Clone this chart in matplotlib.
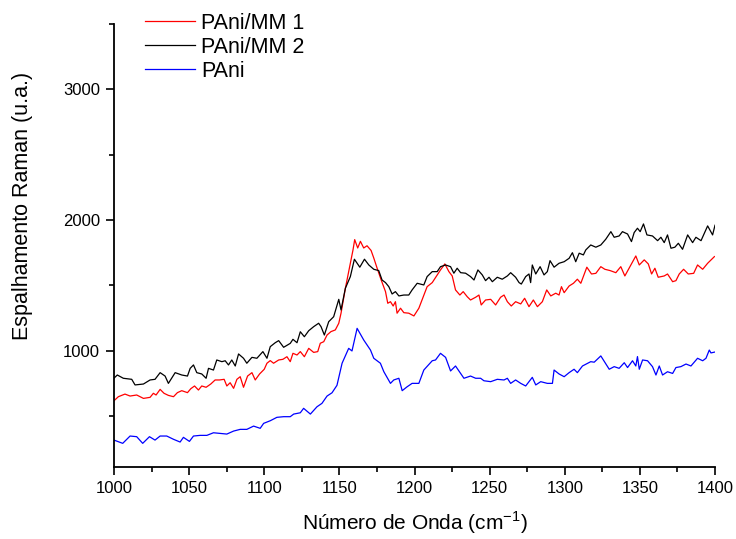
import matplotlib
matplotlib.use("Agg")
import matplotlib.pyplot as plt
from matplotlib.ticker import MultipleLocator

plt.rcParams['font.family'] = ['Liberation Sans', 'DejaVu Sans']

# PAni/MM 1 (red)
wn_mm1 = [1000, 1002.9, 1007.3, 1010.7, 1015.1, 1019.6, 1024, 1026.2, 1028, 1030.7,
          1033.3, 1036.2, 1039.6, 1042.2, 1045.1, 1048.9, 1051.1, 1053.6, 1056.2, 1058.4,
          1061.3, 1064.4, 1067.3, 1070.2, 1073.3, 1075.1, 1077.3, 1079.6, 1081.8, 1084,
          1086.2, 1088.9, 1091.8, 1094, 1096.9, 1100, 1101.8, 1104, 1106.2, 1109.6,
          1112.4, 1115.1, 1117.3, 1119.1, 1121.8, 1124, 1126.7, 1129.6, 1132.9, 1135.6,
          1137.3, 1139.6, 1141.8, 1144.4, 1147.3, 1149.6, 1151.1, 1154, 1156.9, 1159.1,
          1160.2, 1162.2, 1164, 1166.2, 1168.4, 1171.1, 1172.9, 1175.1, 1177.8, 1180.7,
          1182.2, 1184, 1185.8, 1187.3, 1188.4,
          1190.7, 1192.9, 1196.2, 1199.6, 1202.9, 1205.8, 1208.4, 1211.8, 1215.1, 1217.3,
          1220.2, 1222.9, 1225.1, 1227.3, 1230.2, 1232.4, 1235.1, 1237.3, 1240.7, 1242.9,
          1244.4, 1247.3, 1250.7, 1254, 1257.3, 1259.6, 1261.8, 1264.4, 1267.3, 1270.7,
          1273.3, 1276.2, 1279.1, 1281.8, 1285.1, 1288, 1290.7, 1294, 1296.2, 1297.8,
          1299.6, 1302.9, 1305.8, 1308.4, 1310.7, 1314.7, 1317.8, 1320.7, 1324, 1326.7,
          1330.2, 1334, 1337.3, 1340, 1344, 1347.3, 1349.6, 1352.9, 1355.6, 1357.8,
          1360, 1362.2, 1366.2, 1368.4, 1371.8, 1374, 1376.2, 1379.1, 1382.2, 1385.8,
          1388.4, 1391.8, 1395.1, 1399.6]
int_mm1 = [617, 648, 668, 653, 661, 635, 643, 674, 661, 704,
           674, 658, 648, 679, 694, 679, 709, 730, 699, 730,
           720, 745, 776, 776, 781, 730, 755, 712, 781, 801,
           720, 806, 832, 776, 822, 858, 904, 924, 904, 929,
           934, 954, 916, 980, 967, 993, 954, 1018, 987, 993,
           1057, 1069, 1120, 1146, 1159, 1210, 1287, 1478, 1645, 1773,
           1850, 1786, 1837, 1786, 1803, 1767, 1709, 1632, 1542, 1452,
           1363, 1375, 1342, 1375, 1287,
           1325, 1291, 1287, 1266, 1325, 1413, 1490, 1521, 1580, 1618,
           1664, 1605, 1572, 1465, 1426, 1452, 1413, 1388, 1409, 1426,
           1350, 1388, 1393, 1350, 1409, 1426, 1375, 1342, 1375, 1358,
           1401, 1337, 1388, 1337, 1375, 1465, 1419, 1440, 1426, 1490,
           1444, 1495, 1516, 1547, 1516, 1639, 1587, 1592, 1643, 1623,
           1613, 1597, 1643, 1572, 1656, 1725, 1656, 1695, 1664, 1587,
           1631, 1562, 1572, 1587, 1528, 1536, 1587, 1623, 1587, 1592,
           1656, 1623, 1669, 1720]

# PAni/MM 2 (black)
wn_mm2 = [1000, 1002.2, 1006.2, 1011.8, 1014, 1019.6, 1024, 1027.3, 1030.7, 1034,
          1036.2, 1040.7, 1045.1, 1048.9, 1050.7, 1052.9, 1055.1, 1058.4, 1061.3, 1062.9,
          1066.2, 1068.4, 1071.8, 1074, 1076.2, 1078.4, 1080.7, 1082.9, 1086.2, 1088.4,
          1091.8, 1095.1, 1099.1, 1101.8, 1104, 1107.3, 1109.6, 1112.9, 1117.3, 1119.1,
          1121.8, 1124, 1126.7, 1129.6, 1132.9, 1136.2, 1137.8, 1140, 1142.9, 1146.2,
          1149.6, 1151.1, 1154, 1157.3, 1160, 1163.6, 1166.7, 1169.6, 1172.9, 1176.2,
          1178.4, 1180.7, 1182.9, 1185.1, 1187.3, 1189.6, 1192.9, 1196.2, 1198.4,
          1201.8, 1206.2, 1208.4, 1211.8, 1215.1, 1217.3, 1220.7, 1224, 1226.2, 1228.4,
          1230.7, 1234, 1237.3, 1239.6, 1242.2, 1245.1, 1247.3, 1249.6, 1251.8, 1255.1,
          1258.4, 1261.8, 1264, 1267.3, 1269.6, 1271.1, 1274, 1276.2, 1277.3, 1278.4,
          1280.7, 1283.6, 1286.2, 1288.4, 1290.2, 1292.9, 1296.2, 1299.6, 1302.9, 1305.1,
          1307.3, 1309.6, 1312.4, 1314, 1317.3, 1320.7, 1324, 1327.3, 1330.7, 1332.9,
          1336.2, 1338.4, 1341.8, 1344.4, 1346.2, 1348.4, 1350.2, 1352.4, 1354.7, 1358.4,
          1361.8, 1364, 1366.2, 1368.4, 1370.7, 1373.3, 1375.6, 1378.4, 1381.8, 1385.1,
          1387.3, 1390.7, 1395.1, 1398.4, 1400]
int_mm2 = [790, 814, 789, 781, 738, 745, 776, 781, 832, 806,
           750, 832, 814, 806, 865, 891, 832, 822, 789, 865,
           852, 929, 916, 923, 891, 929, 883, 975, 942, 904,
           949, 942, 993, 942, 1031, 1061, 1077, 1026, 1056, 1087,
           1061, 1145, 1107, 1153, 1184, 1210, 1184, 1120, 1222, 1260,
           1393, 1312, 1478, 1567, 1700, 1639, 1700, 1656, 1623, 1613,
           1541, 1521, 1490, 1434, 1452, 1419, 1426, 1426, 1465,
           1516, 1503, 1567, 1605, 1605, 1643, 1656, 1643, 1593, 1631,
           1597, 1593, 1567, 1541, 1618, 1580, 1536, 1562, 1528, 1562,
           1547, 1572, 1597, 1562, 1521, 1510, 1567, 1587, 1521, 1656,
           1587, 1643, 1580, 1605, 1689, 1639, 1669, 1681, 1707, 1750,
           1681, 1746, 1733, 1771, 1809, 1792, 1809, 1853, 1911, 1868,
           1878, 1911, 1893, 1835, 1904, 1937, 1911, 1970, 1886, 1878,
           1842, 1868, 1827, 1886, 1784, 1792, 1822, 1776, 1886, 1827,
           1868, 1842, 1955, 1886, 1960]

# PAni (blue)
wn_pani = [1000, 1005.8, 1010.7, 1015.1, 1019.1, 1023.6, 1027.3, 1030.7, 1035.1, 1039.6,
           1044, 1046.2, 1050.2, 1052.9, 1057.3, 1061.8, 1066.2, 1070.7, 1075.1, 1079.6,
           1084, 1088.4, 1092.9, 1097.3, 1099.6, 1104, 1108.4, 1112.9, 1117.3, 1119.6,
           1124, 1126.2, 1130.7, 1135.1, 1138.4, 1141.8, 1145.1, 1148.4, 1151.8, 1156.2,
           1158.4, 1161.8, 1166.2, 1170.7, 1172.9, 1177.3, 1179.6, 1184, 1186.2, 1189.6,
           1191.8, 1195.1, 1198.4,
           1202.9, 1206.2, 1211.8, 1214, 1217.3, 1220.7, 1224, 1227.3, 1232.9, 1237.3,
           1240.7, 1244, 1246.2, 1250.7, 1255.1, 1259.6, 1261.8, 1264, 1267.3, 1270.7,
           1274, 1278.4, 1280.7, 1284, 1288.4, 1291.8, 1292.9, 1296.2, 1299.6, 1302.9,
           1306.2, 1308.4, 1311.8, 1317.3, 1319.6, 1324, 1329.6, 1332.9, 1336.2, 1339.6,
           1341.8, 1345.1, 1347.3, 1348.4, 1349.6, 1351.8, 1355.1, 1358.4, 1360.7, 1362.9,
           1365.1, 1368.4, 1371.8, 1374, 1377.3, 1380.7, 1384, 1388.4, 1391.8, 1394,
           1396.2, 1397.3, 1400]
int_pani = [316, 291, 347, 342, 291, 342, 316, 347, 347, 322,
            301, 337, 306, 347, 352, 352, 372, 367, 362, 385,
            398, 398, 423, 406, 444, 464, 490, 495, 495, 515,
            525, 559, 515, 571, 597, 653, 678, 735, 904, 1018,
            998, 1171, 1082, 1005, 942, 904, 839, 750, 776, 789,
            694, 724, 750,
            750, 852, 923, 929, 980, 949, 845, 883, 789, 806,
            789, 789, 770, 763, 781, 776, 789, 750, 776, 750,
            730, 796, 738, 763, 750, 750, 852, 822, 801, 832,
            858, 832, 883, 916, 912, 960, 858, 878, 865, 908,
            871, 923, 883, 955, 858, 929, 923, 878, 814, 883,
            814, 839, 826, 871, 878, 898, 883, 942, 923, 942,
            1005, 983, 990]

labels = ["PAni/MM 1", "PAni/MM 2", "PAni"]

fig = plt.figure(figsize=(7.36, 5.39), dpi=100)
ax = fig.add_axes([114 / 736, 1 - 467 / 539, 601 / 736, 443 / 539])

ax.plot(wn_mm1, int_mm1, color='#ff0000', lw=0.9, label=labels[0])
ax.plot(wn_mm2, int_mm2, color='black', lw=0.9, label=labels[1])
ax.plot(wn_pani, int_pani, color='#0000ff', lw=0.9, label=labels[2])

ax.set_xlim(1000, 1400)
ax.set_ylim(110, 3500)

ax.xaxis.set_major_locator(MultipleLocator(50))
ax.xaxis.set_minor_locator(MultipleLocator(25))
ax.yaxis.set_major_locator(MultipleLocator(1000))
ax.yaxis.set_minor_locator(MultipleLocator(500))

for s in ['top', 'right']:
    ax.spines[s].set_visible(False)
for s in ['left', 'bottom']:
    ax.spines[s].set_linewidth(1.3)

ax.tick_params(which='major', direction='out', length=6, width=1.2, labelsize=12, pad=4)
ax.tick_params(which='minor', direction='out', length=3.5, width=1.2)

ax.set_xlabel('Número de Onda (cm$^{\\mathregular{-1}}$)', fontsize=15, labelpad=10)
ax.set_ylabel('Espalhamento Raman (u.a.)', fontsize=15.5)
ax.yaxis.set_label_coords(-0.135, 0.59)

ax.legend(loc='upper left', bbox_to_anchor=(145 / 736, 1 - 13 / 539),
          bbox_transform=fig.transFigure, frameon=False, fontsize=15.5,
          handlelength=2.3, handletextpad=0.3, labelspacing=0.14,
          borderpad=0, borderaxespad=0)

fig.savefig('out.png', dpi=100)
